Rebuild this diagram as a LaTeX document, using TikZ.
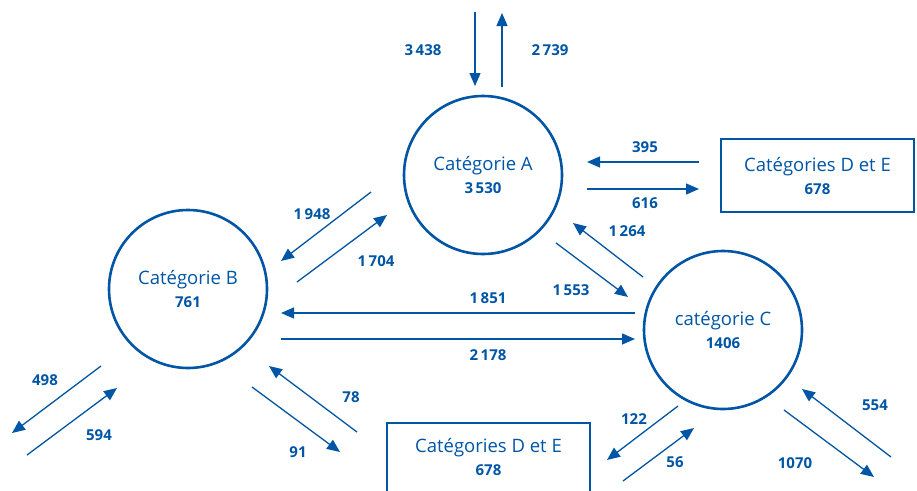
\documentclass[tikz,border=0pt]{standalone}
\usepackage{fontspec}
\setmainfont{Open Sans}
\usetikzlibrary{arrows.meta}
\definecolor{cblue}{RGB}{0,85,165}
\newcommand{\numfont}{\fontsize{15}{16}\selectfont\bfseries}
\tikzset{
  cattext/.style={align=center, text=cblue, font=\fontsize{18.5}{23}\selectfont},
  catcircle/.style={circle, draw=cblue, line width=2.6pt, minimum size=158pt, inner sep=0pt, cattext},
  catbox/.style={rectangle, draw=cblue, line width=2.8pt, inner sep=0pt, cattext},
  flow/.style={draw=cblue, line width=1.3pt, -{Triangle[length=13pt,width=11pt]}},
  num/.style={text=cblue, font=\numfont, inner sep=0pt}
}
\begin{document}
\begin{tikzpicture}[x=1pt,y=-1pt]
\useasboundingbox (0,0) rectangle (917,490);
\clip (0,0) rectangle (917,490);
% nodes
\node[catcircle] (A) at (483,175) {Catégorie A\\{\numfont 3\,530}};
\node[catcircle] (B) at (188,289) {Catégorie B\\{\numfont 761}};
\node[catcircle] (C) at (723,330) {catégorie C\\{\numfont 1406}};
\node[catbox, minimum width=193pt, minimum height=73pt] (DE1) at (817.5,175.5) {Catégories D et E\\{\numfont 678}};
\node[catbox, minimum width=203pt, minimum height=80pt] (DE2) at (488.5,463) {};
\node[cattext] (DE2t) at (488.5,457) {Catégories D et E\\{\numfont 678}};
% coordinates
\coordinate (t1s) at (475,12);  \coordinate (t1e) at (475,86);
\coordinate (t2s) at (502,87);  \coordinate (t2e) at (502,13);
\coordinate (d1s) at (699,162); \coordinate (d1e) at (587,162);
\coordinate (d2s) at (587,189); \coordinate (d2e) at (699,189);
\coordinate (ab1s) at (371,192); \coordinate (ab1e) at (281,261);
\coordinate (ab2s) at (297,282); \coordinate (ab2e) at (387,215);
\coordinate (ac1s) at (643,277); \coordinate (ac1e) at (573,223);
\coordinate (ac2s) at (556,243); \coordinate (ac2e) at (628,297);
\coordinate (bc1s) at (635,313); \coordinate (bc1e) at (281,313);
\coordinate (bc2s) at (281,339); \coordinate (bc2e) at (635,339);
\coordinate (bo1s) at (101,366); \coordinate (bo1e) at (12,433);
\coordinate (bo2s) at (27,455);  \coordinate (bo2e) at (117,388);
\coordinate (bd1s) at (357,432); \coordinate (bd1e) at (269,366);
\coordinate (bd2s) at (252,387); \coordinate (bd2e) at (340,452);
\coordinate (cd1s) at (678,406); \coordinate (cd1e) at (607,460);
\coordinate (cd2s) at (623,481); \coordinate (cd2e) at (694,428);
\coordinate (co1s) at (891,457); \coordinate (co1e) at (802,389);
\coordinate (co2s) at (784,410); \coordinate (co2e) at (874,477);
% arrows
\foreach \a in {t1,t2,d1,d2,ab1,ab2,ac1,ac2,bc1,bc2,bo1,bo2,bd1,bd2,cd1,cd2,co1,co2}
  \draw[flow] (\a s) -- (\a e);
% labels
\node[num] (l3438) at (423,50) {3\,438};
\node[num] (l2739) at (550,50) {2\,739};
\node[num] (l395) at (645,147) {395};
\node[num] (l616) at (645,203) {616};
\node[num] (l1948) at (312,214) {1\,948};
\node[num] (l1704) at (376,261) {1\,704};
\node[num] (l1264) at (627,231) {1\,264};
\node[num] (l1553) at (571,290) {1\,553};
\node[num] (l1851) at (488,298) {1\,851};
\node[num] (l2178) at (488,355) {2\,178};
\node[num] (l498) at (45,380) {498};
\node[num] (l594) at (99,435) {594};
\node[num] (l78) at (351,397) {78};
\node[num] (l91) at (298,452) {91};
\node[num] (l122) at (634,419) {122};
\node[num] (l56) at (675,462) {56};
\node[num] (l554) at (875,405) {554};
\node[num] (l1070) at (795,463) {1070};
\end{tikzpicture}
\end{document}
